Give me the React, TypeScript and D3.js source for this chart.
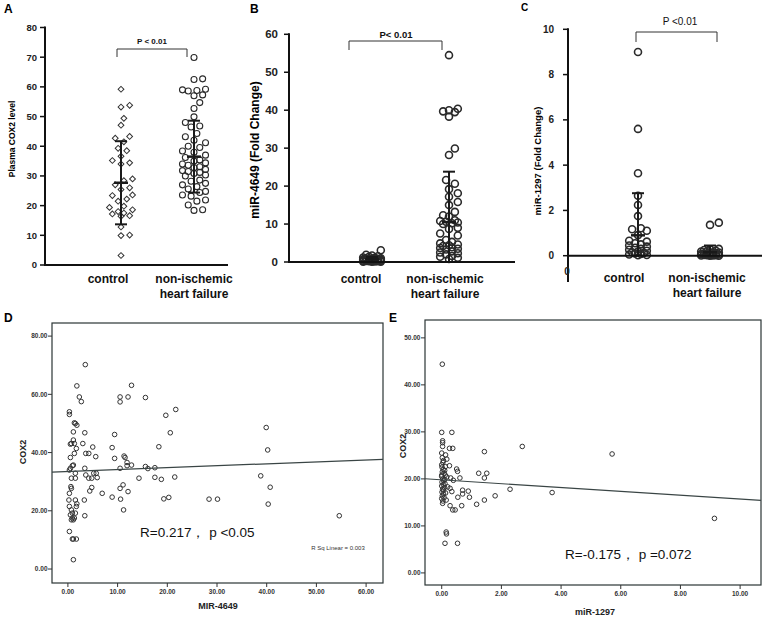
import React from 'react';
import * as d3 from 'd3';

const FONT = "'Liberation Sans', Arial, Helvetica, sans-serif";

// ---------- Panel A: Plasma COX2 ----------
const aControl = [59.2, 53.8, 53.2, 49.4, 47.1, 43.3, 42.7, 41.5, 39.3, 38.5, 36.6, 35.2, 34.4, 34.0, 29.0, 28.4, 27.0, 26.0, 25.4, 23.6, 23.4, 22.2, 21.5, 19.8, 19.4, 18.6, 18.0, 17.5, 17.2, 16.6, 16.4, 12.8, 10.1, 9.9, 3.2];
const aNihf = [69.9, 62.7, 62.5, 59.2, 59.0, 58.8, 58.6, 57.3, 57.0, 54.7, 52.7, 49.9, 48.0, 46.8, 46.5, 44.3, 43.2, 42.0, 41.2, 40.0, 39.6, 38.4, 38.0, 37.0, 36.2, 35.4, 35.0, 34.4, 34.0, 33.6, 33.1, 32.8, 32.2, 31.8, 31.5, 31.2, 30.8, 30.3, 30.0, 28.6, 28.2, 27.5, 27.0, 26.4, 25.6, 24.8, 24.4, 23.6, 23.2, 21.9, 21.5, 20.2, 18.6, 18.4];
const aMean = [27.7, 36.5];
const aSd = [14.0, 12.1];
const aTicks = [0, 10, 20, 30, 40, 50, 60, 70, 80];

// ---------- Panel B: miR-4649 ----------
const bControl = [3.1, 1.9, 1.7, 1.5, 1.4, 1.2, 1.1, 1.0, 0.9, 0.9, 0.8, 0.8, 0.7, 0.7, 0.6, 0.6, 0.5, 0.5, 0.4, 0.4, 0.35, 0.3, 0.3, 0.25, 0.2, 0.2, 0.15, 0.1, 0.1, 0.05];
const bNihf = [54.5, 40.4, 40.0, 39.7, 39.5, 38.3, 29.9, 28.2, 21.6, 20.6, 19.2, 18.1, 17.2, 15.8, 15.0, 13.2, 12.3, 12.0, 11.0, 10.8, 10.6, 10.4, 10.2, 10.0, 9.0, 8.7, 7.5, 7.0, 5.8, 5.3, 4.9, 4.6, 4.4, 4.2, 3.9, 3.7, 3.5, 3.3, 2.8, 2.5, 2.3, 2.0, 1.6, 1.4, 1.1, 0.8];
const bMean = [0.7, 10.5];
const bSd = [0.6, 13.3];
const bTicks = [0, 10, 20, 30, 40, 50, 60];

// ---------- Panel C: miR-1297 ----------
const cControl = [9.0, 5.6, 3.64, 2.65, 2.24, 1.75, 1.21, 1.17, 1.1, 0.91, 0.66, 0.62, 0.55, 0.5, 0.45, 0.4, 0.35, 0.3, 0.26, 0.22, 0.18, 0.15, 0.12, 0.1, 0.08, 0.05, 0.03, 0.02];
const cNihf = [1.46, 1.36, 0.3, 0.28, 0.25, 0.22, 0.2, 0.18, 0.15, 0.14, 0.12, 0.1, 0.09, 0.08, 0.07, 0.06, 0.05, 0.04, 0.03, 0.02, 0.02, 0.01, 0.01, 0.0, 0.0];
const cMean = [0.9, 0.15];
const cSd = [1.86, 0.3];
const cTicks = [0, 2, 4, 6, 8, 10];

// ---------- Panel D: COX2 vs MIR-4649 ----------
const dX = [14.3, 15.6, 15.6, 16.1, 17.5, 17.5, 18.3, 18.8, 19.3, 19.7, 20.3, 20.6, 21.5, 21.7, 28.4, 30.1, 38.8, 39.9, 40.2, 40.3, 40.7, 54.6,
  8.9, 8.9, 9.4, 9.4, 10.5, 10.5, 10.5, 10.5, 10.6, 11.1, 11.2, 11.3, 11.5, 11.9, 11.9, 12.1, 12.1, 12.8, 12.8,
  6.9, 5.9, 5.7, 5.6, 5.0, 5.2, 4.8, 4.8, 4.4, 4.2, 4.2, 3.6, 3.6, 3.4, 3.4, 3.5, 3.0, 3.3, 3.4, 2.7, 2.3, 1.8, 1.8, 1.5, 1.7, 1.5, 1.5, 1.5, 1.8,
  1.3, 1.3, 1.1, 1.1, 1.1, 0.9, 1.1, 0.3, 0.3, 0.3, 0.2, 0.3, 0.5, 0.5, 0.7, 0.5, 0.3, 0.7, 0.6, 0.7, 0.7, 0.5, 0.7, 0.9, 1.3, 1.5, 1.7, 0.3, 0.9, 1.1, 1.7, 1.1, 1.3, 0.9];
const dY = [31.2, 58.9, 35.2, 34.5, 34.8, 31.5, 42.0, 30.8, 24.1, 52.8, 24.6, 46.8, 31.6, 54.8, 24.0, 24.0, 32.0, 48.6, 40.9, 22.3, 28.1, 18.3,
  41.7, 24.7, 46.2, 38.0, 59.1, 57.4, 34.6, 27.7, 24.0, 28.9, 20.3, 38.8, 38.3, 36.6, 35.5, 59.1, 26.6, 63.1, 35.7,
  26.0, 31.4, 32.9, 38.6, 41.9, 32.9, 31.2, 28.0, 26.8, 31.2, 39.7, 39.7, 32.3, 34.6, 46.8, 70.2, 43.1, 23.7, 18.3, 57.5, 59.1, 62.9, 49.4, 50.0, 41.4, 32.9, 31.2, 23.7, 22.4,
  43.1, 39.7, 47.1, 35.7, 44.3, 19.2, 16.9, 54.0, 53.1, 26.0, 23.7, 21.5, 42.9, 38.3, 43.1, 34.6, 34.0, 31.2, 28.3, 27.7, 20.3, 18.6, 16.9, 17.5, 17.5, 19.2, 21.5, 12.9, 10.3, 10.3, 10.3, 3.2, 50.2, 35.5];
const dFit = [33.5, 0.066];
const dXTicks = [0, 10, 20, 30, 40, 50, 60];
const dYTicks = [0, 20, 40, 60, 80];

// ---------- Panel E: COX2 vs miR-1297 ----------
const eX = [0.02, 0.0, 0.34, 0.03, 0.03, 0.03, 0.26, 0.37, 0.0, 0.13, 0.17, 0.06, 0.0, 0.26, 0.5, 0.53, 0.61, 0.0, 0.17, 0.3, 0.39, 0.11, 0.2, 0.28, 0.06, 0.34, 0.7, 0.7, 0.89, 0.93, 0.54, 0.15, 0.03, 0.28, 0.67, 0.37, 0.45, 1.17, 1.43, 1.79, 2.29, 3.7, 1.43, 1.24, 1.51, 1.43, 2.7, 5.71, 9.14, 0.15, 0.16, 0.11, 0.53,
  0.02, 0.04, 0.01, 0.05, 0.02, 0.08, 0.0, 0.04, 0.07, 0.01, 0.05, 0.0, 0.09, 0.03, 0.01, 0.06, 0.02, 0.08, 0.0, 0.04, 0.1, 0.12, 0.1, 0.13, 0.12];
const eY = [44.4, 29.9, 29.9, 28.1, 27.7, 26.9, 26.5, 26.5, 25.5, 25.1, 24.2, 23.9, 23.0, 22.8, 22.1, 21.6, 20.2, 20.8, 20.4, 20.2, 19.7, 19.0, 18.3, 18.0, 17.6, 17.3, 17.6, 16.8, 17.4, 16.1, 16.1, 15.5, 14.8, 14.3, 14.3, 13.4, 13.4, 14.6, 15.5, 16.4, 17.8, 17.1, 25.8, 21.2, 21.2, 20.2, 26.9, 25.3, 11.6, 8.7, 8.3, 6.3, 6.3,
  24.5, 23.5, 22.5, 22.0, 21.5, 21.2, 20.5, 20.0, 19.6, 19.3, 18.8, 18.5, 18.2, 17.8, 17.2, 16.8, 16.4, 16.0, 15.8, 15.3, 21.8, 20.8, 19.9, 17.0, 22.6];
const eFit = [19.8, -0.41];
const eXTicks = [0, 2, 4, 6, 8, 10];
const eYTicks = [0, 10, 20, 30, 40, 50];

const categoryLines = [['control'], ['non-ischemic', 'heart failure']];

// deterministic beeswarm-like dodge layout for the strip plots
function dodge(vals: number[], y: (v: number) => number, d: number, maxHalf: number) {
  const order = vals.map((_, i) => i).sort((a, b) => vals[a] - vals[b]);
  const res = new Array(vals.length).fill(0);
  const placed: { x: number; y: number }[] = [];
  const step = d / 2.5;
  const cands: number[] = [0];
  for (let k = 1; k * step <= maxHalf; k++) cands.push(k * step, -k * step);
  for (const i of order) {
    const py = y(vals[i]);
    let best = 0;
    let bestScore = -Infinity;
    for (const c of cands) {
      let minD = Infinity;
      for (const p of placed) {
        const dd = Math.hypot(p.x - c, p.y - py);
        if (dd < minD) minD = dd;
      }
      if (minD >= d) { best = c; break; }
      if (minD > bestScore) { bestScore = minD; best = c; }
    }
    placed.push({ x: best, y: py });
    res[i] = best;
  }
  return res;
}

type StripCfg = {
  ax: number; y0: number; y1: number; max: number; xEnd: number; axisBottom?: number;
  ticks: number[]; tickSize: number; tickGap: number;
  colX: number[]; labelX: number[]; labelBase: number;
  series: number[][]; mean: number[]; sd: number[];
  diamondFirst?: boolean; r: number; sw: number; spread: number[]; gap: number;
  bracket: { x1: number; x2: number; top: number; bot: number; text: string; tx: number; ty: number; size: number; bold: boolean };
  title: { text: string; x: number; y: number; size: number };
  letter: { text: string; x: number; y: number; size: number };
};

function StripPanel({ p }: { p: StripCfg }) {
  const y = d3.scaleLinear().domain([0, p.max]).range([p.y0, p.y1]);
  const diamond = d3.symbol(d3.symbolSquare, 17)() as string;
  return (
    <g fontFamily={FONT}>
      <text x={p.letter.x} y={p.letter.y} fontSize={p.letter.size} fontWeight="bold">{p.letter.text}</text>
      <text transform={`translate(${p.title.x},${p.title.y}) rotate(-90)`} textAnchor="middle" fontSize={p.title.size} fontWeight="bold">{p.title.text}</text>
      {p.series.map((vals, k) => {
        const offs = dodge(vals, y, p.r * p.gap, p.spread[k]);
        return vals.map((v, i) =>
          p.diamondFirst && k === 0 ? (
            <path key={`${k}-${i}`} d={diamond} transform={`translate(${p.colX[k] + offs[i]},${y(v)}) rotate(45)`} fill="white" fillOpacity={0.6} stroke="#333" strokeWidth={1} />
          ) : (
            <circle key={`${k}-${i}`} cx={p.colX[k] + offs[i]} cy={y(v)} r={p.r} fill="none" stroke="#2a2a2a" strokeWidth={p.sw} />
          )
        );
      })}
      {p.mean.map((m, k) => {
        const lo = Math.max(0, m - p.sd[k]);
        const hi = m + p.sd[k];
        const cx = p.colX[k];
        return (
          <g key={`eb${k}`} stroke="#1a1a1a" strokeWidth={2}>
            <line x1={cx} x2={cx} y1={y(lo)} y2={y(hi)} />
            <line x1={cx - 6} x2={cx + 6} y1={y(hi)} y2={y(hi)} />
            {m - p.sd[k] > 0 && <line x1={cx - 6} x2={cx + 6} y1={y(lo)} y2={y(lo)} />}
            <line x1={cx - 7} x2={cx + 7} y1={y(m)} y2={y(m)} strokeWidth={2.5} />
          </g>
        );
      })}
      <line x1={p.ax} x2={p.ax} y1={p.axisBottom ?? p.y0 + 1} y2={p.y1 - 1} stroke="#111" strokeWidth={2} />
      <line x1={p.ax} x2={p.xEnd} y1={p.y0} y2={p.y0} stroke="#111" strokeWidth={2} />
      {p.ticks.map((t) => (
        <g key={t}>
          <line x1={p.ax - 5} x2={p.ax} y1={y(t)} y2={y(t)} stroke="#111" strokeWidth={1.5} />
          <text x={p.ax - p.tickGap} y={y(t)} dy="0.36em" textAnchor="end" fontSize={p.tickSize} fontWeight="bold" fill="#222">{t}</text>
        </g>
      ))}
      {categoryLines.map((lines, k) =>
        lines.map((ln, j) => (
          <text key={`c${k}${j}`} x={p.labelX[k]} y={p.labelBase + j * 15} textAnchor="middle" fontSize={12} fontWeight="bold" fill="#111">{ln}</text>
        ))
      )}
      <path d={`M${p.bracket.x1},${p.bracket.bot}V${p.bracket.top}H${p.bracket.x2}V${p.bracket.bot}`} fill="none" stroke="#333" strokeWidth={1} />
      <text x={p.bracket.tx} y={p.bracket.ty} textAnchor="middle" fontSize={p.bracket.size} fontWeight={p.bracket.bold ? 'bold' : 'normal'} fill="#111">{p.bracket.text}</text>
    </g>
  );
}

type ScatterCfg = {
  left: number; right: number; top: number; bottom: number;
  xDom: number[]; yDom: number[]; xs: number[]; ys: number[]; fit: number[];
  xTicks: number[]; yTicks: number[];
  xTitle: { text: string; x: number; y: number };
  yTitle: { text: string; x: number; y: number };
  letter: { text: string; x: number; y: number };
  note: { text: string; x: number; y: number };
  rsq?: { text: string; x: number; y: number };
};

function ScatterPanel({ p }: { p: ScatterCfg }) {
  const x = d3.scaleLinear().domain(p.xDom).range([p.left, p.right]);
  const y = d3.scaleLinear().domain(p.yDom).range([p.bottom, p.top]);
  const fitLine = d3.line<number>().x((v) => x(v)).y((v) => y(p.fit[0] + p.fit[1] * v));
  return (
    <g fontFamily={FONT}>
      <text x={p.letter.x} y={p.letter.y} fontSize={12} fontWeight="bold">{p.letter.text}</text>
      <rect x={p.left} y={p.top} width={p.right - p.left} height={p.bottom - p.top} fill="white" stroke="#2b3535" strokeWidth={1.2} />
      {p.xs.map((xv, i) => (
        <circle key={i} cx={x(xv)} cy={y(p.ys[i])} r={2.3} fill="none" stroke="#333" strokeWidth={1} />
      ))}
      <path d={fitLine(p.xDom) || ''} fill="none" stroke="#3a4545" strokeWidth={1.2} />
      {p.yTicks.map((t) => (
        <g key={`y${t}`}>
          <line x1={p.left - 4} x2={p.left} y1={y(t)} y2={y(t)} stroke="#333" strokeWidth={1} />
          <text x={p.left - 4.5} y={y(t)} dy="0.35em" textAnchor="end" fontSize={6.5} fontWeight="bold" fill="#333">{t.toFixed(2)}</text>
        </g>
      ))}
      {p.xTicks.map((t) => (
        <g key={`x${t}`}>
          <line x1={x(t)} x2={x(t)} y1={p.bottom} y2={p.bottom + 4} stroke="#333" strokeWidth={1} />
          <text x={x(t)} y={p.bottom + 11} textAnchor="middle" fontSize={6.5} fontWeight="bold" fill="#333">{t.toFixed(2)}</text>
        </g>
      ))}
      <text x={p.xTitle.x} y={p.xTitle.y} textAnchor="middle" fontSize={9} fontWeight="bold" fill="#222">{p.xTitle.text}</text>
      <text transform={`translate(${p.yTitle.x},${p.yTitle.y}) rotate(-90)`} textAnchor="middle" fontSize={9} fontWeight="bold" fill="#222">{p.yTitle.text}</text>
      <text x={p.note.x} y={p.note.y} fontSize={13.5} fill="#111">{p.note.text}</text>
      {p.rsq && <text x={p.rsq.x} y={p.rsq.y} textAnchor="middle" fontSize={6} fill="#333">{p.rsq.text}</text>}
    </g>
  );
}

export default function App() {
  const A: StripCfg = {
    ax: 45, y0: 265, y1: 27.5, max: 80, xEnd: 228,
    ticks: aTicks, tickSize: 9.5, tickGap: 8,
    colX: [121, 194], labelX: [108, 194], labelBase: 283,
    series: [aControl, aNihf], mean: aMean, sd: aSd, diamondFirst: true, r: 3, sw: 1.1, spread: [12, 13], gap: 2.4,
    bracket: { x1: 117, x2: 187, top: 49, bot: 57, text: 'P < 0.01', tx: 152, ty: 44, size: 8, bold: true },
    title: { text: 'Plasma COX2 level', x: 15, y: 139, size: 8.5 },
    letter: { text: 'A', x: 4, y: 13, size: 12 },
  };
  const B: StripCfg = {
    ax: 289, y0: 262, y1: 34.3, max: 60, xEnd: 515,
    ticks: bTicks, tickSize: 11.5, tickGap: 11,
    colX: [372, 449], labelX: [361, 445], labelBase: 283,
    series: [bControl, bNihf], mean: bMean, sd: bSd, r: 3.5, sw: 1.6, spread: [9, 11], gap: 2.1,
    bracket: { x1: 349, x2: 442, top: 41, bot: 50, text: 'P< 0.01', tx: 396, ty: 38, size: 9.5, bold: true },
    title: { text: 'miR-4649 (Fold Change)', x: 259, y: 150, size: 12 },
    letter: { text: 'B', x: 250, y: 13, size: 12 },
  };
  const C: StripCfg = {
    ax: 568, y0: 255.7, y1: 29.3, max: 10, xEnd: 762, axisBottom: 282,
    ticks: cTicks, tickSize: 10, tickGap: 14,
    colX: [638, 710], labelX: [624, 707], labelBase: 282,
    series: [cControl, cNihf], mean: cMean, sd: cSd, r: 3.5, sw: 1.6, spread: [11, 11], gap: 2.1,
    bracket: { x1: 636, x2: 717, top: 32, bot: 42, text: 'P <0.01', tx: 680, ty: 25, size: 10, bold: false },
    title: { text: 'miR-1297 (Fold Change)', x: 541, y: 161, size: 9.5 },
    letter: { text: 'C', x: 521, y: 11, size: 10 },
  };
  const D: ScatterCfg = {
    left: 52, right: 383, top: 323, bottom: 583,
    xDom: [-3.2, 63.4], yDom: [-4.8, 84.5], xs: dX, ys: dY, fit: dFit,
    xTicks: dXTicks, yTicks: dYTicks,
    xTitle: { text: 'MIR-4649', x: 218, y: 609 },
    yTitle: { text: 'COX2', x: 26, y: 452 },
    letter: { text: 'D', x: 4, y: 322 },
    note: { text: 'R=0.217，  p <0.05', x: 140, y: 537 },
    rsq: { text: 'R Sq Linear = 0.003', x: 338, y: 550 },
  };
  const E: ScatterCfg = {
    left: 425, right: 761, top: 320, bottom: 585,
    xDom: [-0.56, 10.7], yDom: [-2.57, 53.8], xs: eX, ys: eY, fit: eFit,
    xTicks: eXTicks, yTicks: eYTicks,
    xTitle: { text: 'miR-1297', x: 595, y: 615 },
    yTitle: { text: 'COX2', x: 406, y: 446 },
    letter: { text: 'E', x: 389, y: 322 },
    note: { text: 'R=-0.175，  p =0.072', x: 565, y: 559 },
  };
  return (
    <svg width={768} height={617} viewBox="0 0 768 617" style={{ position: 'absolute', left: 0, top: 0, display: 'block', background: 'white' }}>
      <rect x={0} y={0} width={768} height={617} fill="white" />
      <StripPanel p={A} />
      <StripPanel p={B} />
      <StripPanel p={C} />
      <text x={567} y={275} textAnchor="middle" fontFamily={FONT} fontSize={10} fontWeight="bold" fill="#222">0</text>
      <ScatterPanel p={D} />
      <ScatterPanel p={E} />
    </svg>
  );
}
